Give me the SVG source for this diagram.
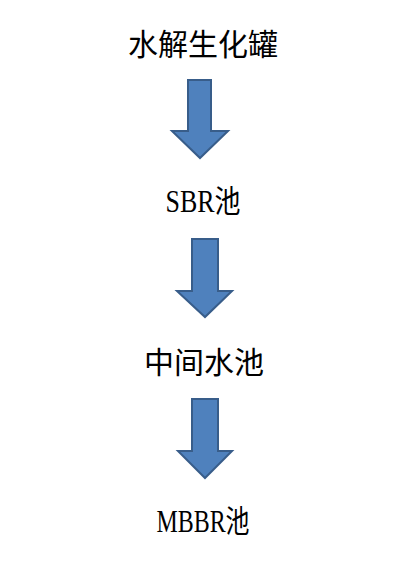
<svg xmlns="http://www.w3.org/2000/svg" width="409" height="580" viewBox="0 0 409 580">
<style>
.t{font-family:"Liberation Serif","Noto Sans CJK SC",serif;font-size:30px;fill:#000;text-anchor:middle}
.m{font-size:31px}
.a{fill:#4f81bd;stroke:#385d8a;stroke-width:2;stroke-linejoin:miter}
</style>
<rect width="409" height="580" fill="#fff"/>
<g id="n1"><text class="t" x="203" y="55">水解生化罐</text></g>
<g id="n2"><text class="t m" x="203" y="212" textLength="75" lengthAdjust="spacingAndGlyphs">SBR池</text></g>
<g id="n3"><text class="t" x="204" y="373">中间水池</text></g>
<g id="n4"><text class="t m" x="203" y="532" textLength="93" lengthAdjust="spacingAndGlyphs">MBBR池</text></g>
<g id="connectors">
<path class="a" d="M188,80 H211 V131 H228 L200,158 L172,131 H188 Z"/>
<path class="a" d="M192,239 H218 V291 H232 L205,317 L177,291 H192 Z"/>
<path class="a" d="M192,399 H218 V451 H232 L205,478 L178,451 H192 Z"/>
</g>
</svg>
